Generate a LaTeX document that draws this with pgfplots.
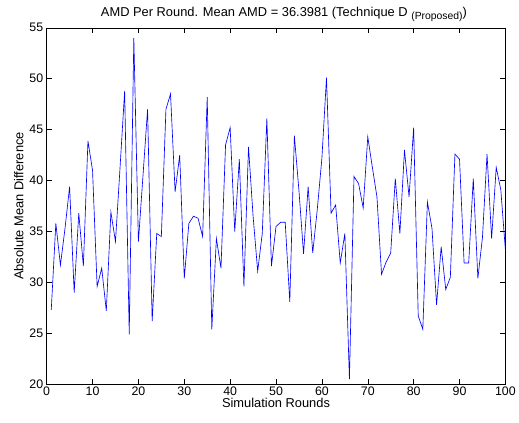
\documentclass[border=0pt]{standalone}
\usepackage{fontspec}
\setmainfont{Liberation Sans}
\usepackage{pgfplots}
\pgfplotsset{compat=1.18}
\definecolor{amdblue}{RGB}{0,0,255}

\pgfplotstableread{
k amd
1 27.3
2 35.8
3 31.7
4 35.3
5 39.4
6 29.0
7 36.8
8 31.6
9 43.9
10 41.0
11 29.6
12 31.4
13 27.2
14 36.9
15 34.0
16 41.3
17 48.8
18 24.9
19 54.0
20 34.0
21 40.5
22 47.0
23 26.2
24 34.8
25 34.5
26 47.0
27 48.5
28 38.9
29 42.5
30 30.4
31 35.8
32 36.5
33 36.3
34 34.5
35 48.2
36 25.4
37 34.3
38 31.4
39 43.5
40 45.2
41 35.0
42 42.1
43 29.6
44 43.3
45 36.5
46 31.1
47 34.8
48 46.1
49 31.6
50 35.5
51 35.9
52 35.9
53 28.1
54 44.4
55 39.0
56 32.8
57 39.4
58 32.9
59 37.2
60 42.2
61 50.1
62 36.8
63 37.6
64 31.9
65 34.8
66 20.5
67 40.4
68 39.7
69 37.3
70 44.3
71 41.3
72 38.4
73 30.8
74 32.0
75 32.9
76 40.2
77 34.8
78 43.0
79 38.4
80 45.2
81 26.7
82 25.4
83 37.9
84 35.3
85 27.8
86 33.5
87 29.3
88 30.5
89 42.6
90 42.1
91 31.9
92 31.9
93 40.2
94 30.4
95 34.4
96 42.6
97 34.3
98 41.3
99 39.1
100 33.2
}\amdtable

\begin{document}
\begin{tikzpicture}
\begin{axis}[
  scale only axis, width=462bp, height=359bp,
  xmin=0, xmax=100, ymin=20, ymax=55,
  xtick={0,10,...,100}, ytick={20,25,...,55},
  tick align=inside, major tick length=5bp,
  axis line style={black, line width=0.5pt},
  every tick/.style={black, line width=0.5pt},
  /pgf/number format/assume math mode=true,
  tick label style={font=\fontsize{12.5}{14}\selectfont},
  label style={font=\fontsize{13}{15}\selectfont},
  title style={font=\fontsize{13}{15}\selectfont, yshift=-3bp, xshift=8bp},
  xlabel={Simulation Rounds},
  ylabel={Absolute Mean Difference},
  xlabel style={yshift=4bp},
  ylabel style={yshift=-1bp},
  xticklabel style={yshift=1bp},
  title={AMD Per Round. Mean AMD = 36.3981 (Technique D \raisebox{-0.45ex}{\fontsize{10.5}{11}\selectfont (Proposed)})},
]
\addplot[amdblue, line width=0.65pt] table[x=k, y=amd] {\amdtable};
\end{axis}
\path[use as bounding box] (current axis.south west) ++(-47bp,-39bp) rectangle ++(519bp,426bp);
\end{tikzpicture}
\end{document}
